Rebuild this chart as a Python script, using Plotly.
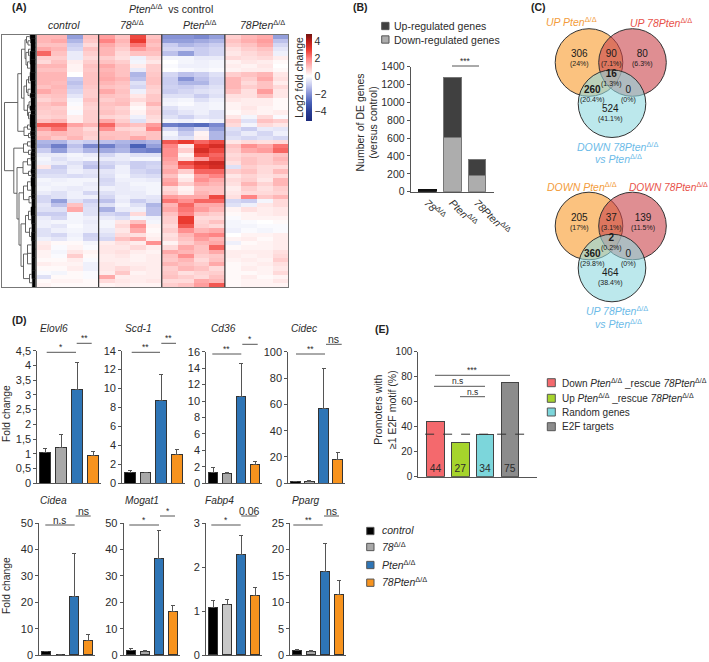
import plotly.graph_objects as go

W, H = 709, 662
FONT = "Liberation Sans"
TXT = "#2b2b2b"
AX = "#555555"
def SUP(s): return f'<sup style="font-size:{s}px">Δ/Δ</sup>'

# ---------- Panel A data (log2 fold change x10, rows top to bottom) ----------
heat_groups = ["control", "78", "Pten", "78Pten"]
heat_rows = [
[12,12,-18,10,16,10,28,10,-20,-20,-22,-18,8,12,14,-18],
[12,14,-14,9,20,12,30,12,-18,-18,-16,-14,10,13,16,-12],
[10,10,-10,6,14,10,22,10,-10,-14,-12,-10,8,10,14,-8],
[14,12,-8,10,12,8,16,12,-8,-8,-10,-8,5,8,10,-5],
[24,10,-4,8,12,6,10,10,-12,-18,-10,-8,4,6,8,-3],
[8,8,-4,6,8,5,-3,6,-2,-2,-4,-4,6,5,6,3],
[6,10,3,8,10,8,-2,4,0,-2,-3,-2,2,4,3,1],
[12,12,2,10,14,10,3,8,-1,-3,-3,-2,3,2,4,0],
[10,10,2,9,12,10,-4,8,0,-1,-2,-1,2,3,3,1],
[12,12,0,10,13,10,-14,9,-8,-12,-10,-6,8,10,12,4],
[12,12,-10,10,14,12,-12,10,-10,-20,-12,-8,12,8,14,5],
[12,11,-12,10,12,10,-6,10,-10,-14,-14,-8,12,6,10,3],
[10,12,-10,9,10,9,-8,8,-9,-10,-8,-6,12,8,10,6],
[14,11,-8,8,14,10,-3,7,-10,-8,-6,-5,10,5,16,4],
[9,10,-5,8,10,9,4,9,-6,-6,-10,-6,5,5,10,4],
[7,9,-2,10,8,10,6,9,-3,-2,-6,-3,4,3,3,1],
[10,12,-1,8,10,11,3,12,-2,-1,-3,-2,2,3,3,1],
[9,8,1,7,9,7,1,7,-6,-3,-3,-2,2,4,2,1],
[8,9,-1,8,10,8,2,8,-8,-5,-3,-6,1,3,2,3],
[7,8,3,8,7,6,-3,6,-6,-9,-5,-6,4,-2,6,-1],
[10,12,3,8,14,8,-6,5,-2,-3,-1,-3,8,-6,10,8],
[26,26,15,12,24,12,10,16,-24,-26,-28,-22,6,-2,6,4],
[16,22,10,6,18,7,6,20,-8,-14,-8,-18,-6,-10,-4,-5],
[10,12,10,8,10,10,8,10,-2,-10,2,-14,-8,-4,-8,-3],
[12,9,12,7,11,10,14,10,-4,-6,3,-14,-6,-8,-6,-8],
[-14,-14,-8,-10,-12,-14,-16,-14,26,30,24,28,4,6,5,6],
[-16,-24,-12,-22,-24,-16,-30,-18,20,4,30,34,10,18,14,22],
[-10,-18,-9,-14,-16,-14,-22,-24,18,8,34,28,8,14,16,24],
[-4,-4,-2,-4,-8,-4,-6,-6,18,2,28,24,6,8,8,10],
[-2,-6,-3,-2,-4,-4,-2,-2,16,5,16,26,7,10,8,12],
[-3,-4,-6,-10,-8,-6,-10,-9,14,28,34,36,5,10,8,10],
[4,-10,-4,-12,-10,-3,-10,-8,12,24,30,34,-6,8,6,6],
[-8,-8,-3,-5,-5,-3,-8,-10,14,8,24,24,8,10,6,11],
[-6,-6,-7,-6,-6,-2,-6,-7,10,2,16,20,4,7,5,6],
[-2,-3,-2,-2,-8,-3,-3,-4,14,4,18,14,6,8,4,12],
[-3,-2,-2,-4,-7,-4,-2,-2,16,8,14,12,5,12,7,12],
[-2,-3,-4,-3,-3,-4,-3,-2,6,2,10,10,3,8,5,8],
[-4,-6,-3,-8,-6,-4,-4,-2,8,3,12,10,4,6,6,7],
[-8,-6,-3,-3,-8,-3,-4,-5,16,14,14,28,5,20,9,12],
[-8,-18,-6,-10,-12,-4,-10,-6,22,18,24,24,-8,-10,-2,6],
[-5,-12,10,-7,-6,-2,-6,-14,12,24,14,14,-6,-3,4,6],
[-6,-6,14,-6,-15,-4,-3,-12,14,22,16,12,2,5,3,4],
[-10,-10,-2,-6,-8,-10,6,-12,10,20,10,8,1,2,3,4],
[-4,-8,-2,-3,-4,-6,-2,-3,8,30,6,6,-1,2,2,2],
[-3,-2,-2,-4,-2,4,10,-2,8,30,7,10,-2,-1,0,1],
[-3,-5,-1,-3,-2,6,18,2,6,26,8,6,-2,-2,-1,-1],
[-6,-3,-2,-3,-4,4,14,1,8,18,12,14,-3,-1,-2,-1],
[-6,-8,-3,-9,-6,6,5,2,5,12,18,20,0,2,2,3],
[-3,-5,-2,-8,-8,10,14,3,6,10,16,12,2,3,1,3],
[3,1,1,-2,3,5,3,18,2,8,12,14,-3,1,2,3],
[4,-1,2,-1,4,4,6,3,6,14,10,24,1,2,2,3],
[2,-2,4,2,4,5,3,2,14,12,10,14,3,3,3,5],
[2,-1,8,1,3,4,2,3,10,18,8,9,3,2,3,6],
[1,1,3,-1,3,3,2,3,9,12,6,10,2,3,2,8],
[3,2,2,-3,4,3,3,3,12,10,8,14,1,2,3,5],
[1,1,3,-3,4,6,4,3,8,12,10,6,1,3,2,4],
[-1,-2,1,-1,3,9,2,3,9,5,7,8,1,1,2,6],
[-6,1,1,-1,14,3,3,3,10,8,6,10,1,3,1,2],
[1,2,2,1,6,4,3,4,6,6,14,12,1,2,2,4],
[2,1,1,1,2,3,2,2,8,10,16,26,1,2,2,2],
]
colorbar_ticks = [4, 2, 0, -2, -4]

# dendrogram: (distance, child, child); leaf cluster: (distance, number of rows)
dendro_tree = (31,
    (17.7,
        (14,
            (10.5,
                (9, (6, 1), (7.5, (5.5, 1), (5, 1))),
                (9.5, (7, (5, 1), (6, 2)), (8, (6, 1), (5.5, 2)))),
            (11.5,
                (9, (7, (6, 2), (5, 1)), (7.5, (5, 2), (6, 1))),
                (8, (6.5, (5, 2), (6, 1)), (7, (5, 1), (6, 2))))),
        (11.5, (8, (6, 1), (5, 1)), (7, (5.5, 1), (5, 1)))),
    (21.7,
        (12, (8, (5, 1), (5, 1)), (7, (4.5, 1), (5, 1))),
        (18.5,
            (12.5, (8, (5, 1), (4.5, 2)), (7, (5, 1), (4.5, 1))),
            (16.5,
                (12, (8, (5, 2), (4.5, 2)), (6.5, (4.5, 1), (4, 2))),
                (14.5,
                    (10, (7, (5, 2), (4.5, 2)), (6, (4, 2), (4.5, 2))),
                    (12, (8, (4, 2), (4, 2), (4, 3)), (6, (4, 2), (3.5, 2))))))))

# ---------- Panel B data ----------
b_categories = [f"<i>78</i>{SUP(5)}", f"<i>Pten</i>{SUP(5)}", f"<i>78Pten</i>{SUP(5)}"]
b_down = [8, 605, 180]
b_up = [12, 670, 185]

# ---------- Panel C data ----------
venn_top_counts = [306, 90, 80, 16, 260, 0, 524]
venn_top_pct = ["24%", "7.1%", "6.3%", "1.3%", "20.4%", "0%", "41.1%"]
venn_bottom_counts = [205, 37, 139, 2, 360, 0, 464]
venn_bottom_pct = ["17%", "3.1%", "11.5%", "0.2%", "29.8%", "0%", "38.4%"]

# ---------- Panel D data ----------
d_genes = ["Elovl6", "Scd-1", "Cd36", "Cidec", "Cidea", "Mogat1", "Fabp4", "Pparg"]
d_groups = ["control", "78", "Pten", "78Pten"]
d_values = [
    [1.05, 1.2, 3.17, 0.93],
    [1.15, 1.1, 8.7, 3.05],
    [1.35, 1.25, 10.6, 2.3],
    [1.2, 1.5, 56.5, 18],
    [1.2, 0, 22.3, 5.6],
    [1.7, 1.2, 36.7, 16.5],
    [1.08, 1.15, 2.3, 1.36],
    [0.9, 0.6, 15.8, 11.5],
]
d_err_tops = [
    [1.17, 1.65, 4.1, 1.07],
    [1.35, 1.15, 11.45, 3.55],
    [1.9, 1.35, 14.6, 2.65],
    [1.7, 1.9, 87.5, 23.5],
    [1.2, 0, 38.7, 7.7],
    [2.3, 1.6, 47.2, 18.7],
    [1.25, 1.27, 2.72, 1.53],
    [1.05, 0.85, 21.2, 14.1],
]
d_ymax = [4.5, 14, 16, 100, 50, 50, 3, 25]
d_ticks = [
    [0, .5, 1, 1.5, 2, 2.5, 3, 3.5, 4, 4.5],
    list(range(0, 15, 2)), list(range(0, 17, 2)), list(range(0, 101, 20)),
    list(range(0, 51, 10)), list(range(0, 51, 10)), [0, 1, 2, 3], list(range(0, 26, 5)),
]
d_ticktext = [["0", "0,5", "1", "1,5", "2", "2,5", "3", "3,5", "4", "4,5"]] + [None] * 7
d_sig_left = ["*", "**", "**", "**", "n.s", "*", "*", "**"]
d_sig_right = ["**", "**", "*", "ns", "ns", "*", "0.06", "ns"]

# ---------- Panel E data ----------
e_categories = ["Down", "Up", "Random genes", "E2F targets"]
e_values = [44, 27, 34, 75]
e_reference = 34

# ---------- layout positions ----------
d_left = [37.3, 122.2, 206.3, 288.3, 39.3, 123.7, 206, 290.3]
d_step = [16, 15.6, 14, 14.1, 14, 14, 14, 14]
d_top = [350.7, 350.7, 351.7, 351.7, 523.3, 523.3, 523.3, 523.3]
d_bot = [483.3, 483.3, 483.3, 483.3, 655, 655, 655, 655]
d_title_x = [38, 123, 209, 288.7, 38, 122.7, 203, 290]
d_title_y = [328, 328, 328, 328, 500, 500, 500, 500]
d_left_line = [(46.7, 76, 352.3), (131.7, 160, 352.3), (212.3, 241.3, 354), (296, 325, 354),
               (45.3, 74.7, 525), (129.3, 159, 525), (211.3, 240.7, 525), (293.3, 322.7, 525)]
d_right_line = [(76.7, 91.7, 343.3), (161.3, 176, 343.3), (242.3, 257.7, 344.3), (326, 341.7, 344.3),
                (75.7, 90.7, 516), (160, 175, 516), (241.3, 256.7, 516), (324, 339, 516)]
c_blue, c_orange = "#2E75B6", "#F7931E"


def px(x): return x / W
def py(y): return 1 - y / H
def domx(a, b): return [a / W, b / W]
def domy(top, bot): return [1 - bot / H, 1 - top / H]

anns, shapes = [], []


def text(x, y, s, size=10.5, color=TXT, anchor="center", angle=0):
    anns.append(dict(xref="paper", yref="paper", x=px(x), y=py(y), text=s, showarrow=False,
                     xanchor=anchor, yanchor="middle", textangle=angle, align="center",
                     font=dict(family=FONT, size=size, color=color)))


def seg(x0, x1, y0, y1=None, color=AX, width=1, dash=None):
    shapes.append(dict(type="line", xref="paper", yref="paper", x0=px(x0), x1=px(x1), y0=py(y0),
                       y1=py(y0 if y1 is None else y1), line=dict(color=color, width=width, dash=dash)))


def swatch(x0, x1, yc, color):
    h = (x1 - x0) / 2
    shapes.append(dict(type="rect", xref="paper", yref="paper", x0=px(x0), x1=px(x1), y0=py(yc - h),
                       y1=py(yc + h), fillcolor=color, line=dict(color="#555555", width=1)))


fig = go.Figure()
lay = {}

# ---------- A: heatmap ----------
ZMIN, ZMAX = -5.1, 4.76
def nrm(v): return (v - ZMIN) / (ZMAX - ZMIN)
scale = [[nrm(-5.1), "#1c2a7c"], [nrm(-4), "#2a3f96"], [nrm(-3), "#4a62b8"], [nrm(-2), "#8793d6"],
         [nrm(-1), "#cacdf0"], [nrm(0), "#ffffff"], [nrm(1), "#ffc2c2"], [nrm(2), "#ff8484"],
         [nrm(3), "#ea3a30"], [nrm(4), "#b81c18"], [nrm(4.76), "#701410"]]
z = [[v / 10 for v in r] for r in heat_rows]
fig.add_trace(go.Heatmap(z=z, x=list(range(16)), y=list(range(len(z))), colorscale=scale, zmin=ZMIN, zmax=ZMAX,
    xaxis="x", yaxis="y", hoverinfo="skip",
    colorbar=dict(x=px(305.7), xanchor="left", y=py(34.3), yanchor="top", lenmode="pixels", len=87.4,
                  thicknessmode="pixels", thickness=6, outlinewidth=0, ticks="", tickvals=colorbar_ticks,
                  ticklabelposition="outside", xpad=0, ypad=0, tickfont=dict(family=FONT, size=10.5, color=TXT))))
frame = dict(showline=True, linecolor="#777777", linewidth=1, mirror=True, showgrid=False, zeroline=False,
             showticklabels=False, ticks="")
lay["xaxis"] = dict(domain=domx(35.5, 288), range=[-.5, 15.5], **frame)
lay["yaxis"] = dict(domain=domy(34.5, 287), range=[len(z) - .5, -.5], anchor="x", **frame)
for g in (3.5, 7.5, 11.5):
    shapes.append(dict(type="line", xref="x", yref="y domain", x0=g, x1=g, y0=0, y1=1,
                       line=dict(color="#333333", width=1.2)))

# dendrogram drawn from the tree
lx, ly, blobs = [], [], []
cursor = [-.5]
def layout_node(n):
    if isinstance(n[1], int):
        a = cursor[0]; cursor[0] += n[1]; b = cursor[0]
        blobs.append((n[0], a, b))
        return n[0], (a + b) / 2
    h = n[0]
    ys = []
    for c in n[1:]:
        ch, cy = layout_node(c)
        lx.extend([ch, h, None]); ly.extend([cy, cy, None])
        ys.append(cy)
    lx.extend([h, h, None]); ly.extend([min(ys), max(ys), None])
    return h, sum(ys) / len(ys)
layout_node(dendro_tree)
fig.add_trace(go.Scatter(x=lx, y=ly, mode="lines", line=dict(color="#555555", width=0.9), xaxis="x2", yaxis="y2",
                         hoverinfo="skip"))
for h, a, b in blobs:
    fig.add_trace(go.Scatter(x=[0, h * .9, h * .9, 0], y=[a, a, b, b], mode="lines", fill="toself", fillcolor="#000000",
                             line=dict(color="#000000", width=0.5), xaxis="x2", yaxis="y2", hoverinfo="skip"))
lay["xaxis2"] = dict(domain=domx(2, 35.5), range=[33.5, 0], anchor="y2", **frame)
lay["yaxis2"] = dict(domain=domy(34.5, 287), range=[len(z) - .5, -.5], anchor="x2", **frame)

text(171, 8.7, f"<i>Pten</i>{SUP(5)}  vs control", 10.5)
text(64, 25, "<i>control</i>", 10.5)
text(132, 24, f"<i>78</i>{SUP(10)}", 10.5)
text(200, 24, f"<i>Pten</i>{SUP(10)}", 10.5)
text(262, 24, f"<i>78Pten</i>{SUP(10)}", 10.5)
text(299, 77.7, "Log2 fold change", 10.5, angle=-90)

# ---------- B ----------
fig.add_trace(go.Bar(x=b_categories, y=b_down, name="Down-regulated genes",
                     marker=dict(color=["#111111", "#ADADAD", "#ADADAD"], line=dict(color=["#111111", "#777777", "#777777"], width=1)),
                     width=.72, xaxis="x3", yaxis="y3", showlegend=False))
fig.add_trace(go.Bar(x=b_categories, y=b_up, name="Up-regulated genes",
                     marker=dict(color=["#111111", "#404040", "#404040"], line=dict(color=["#111111", "#777777", "#777777"], width=1)),
                     width=.72, xaxis="x3", yaxis="y3", showlegend=False))
axis_common = dict(showgrid=False, zeroline=False, showline=True, linecolor=AX, linewidth=1)
lay["xaxis3"] = dict(domain=domx(410.7, 494), range=[-.668, 2.684], anchor="y3", ticks="", tickangle=45,
                     tickfont=dict(family=FONT, size=10.5, color=TXT), **axis_common)
lay["yaxis3"] = dict(domain=domy(66.7, 191.7), range=[0, 1400], anchor="x3", ticks="outside", ticklen=3, tickcolor=AX,
                     dtick=200, tickfont=dict(family=FONT, size=10.5, color=TXT), **axis_common)
text(366.5, 123, "Number of DE genes<br>(versus control)", 10.5, angle=-90)
seg(452, 479, 66)
text(465.5, 60.5, "***", 8.5)
swatch(381.7, 389, 26, "#404040")
swatch(381.7, 389, 39.5, "#ADADAD")
text(391.6, 26, "Up-regulated genes", 10.5, anchor="left")
text(391.6, 39.5, "Down-regulated genes", 10.5, anchor="left")

# ---------- D ----------
for i, gene in enumerate(d_genes):
    n = 4 + i
    gray = "#C8C8C8" if gene == "Fabp4" else "#A8A8A8"
    vals, tops = d_values[i], d_err_tops[i]
    fig.add_trace(go.Bar(x=d_groups, y=vals, width=.67, name=gene, showlegend=False, xaxis=f"x{n}", yaxis=f"y{n}",
        marker=dict(color=["#000000", gray, c_blue, c_orange], line=dict(color="#333333", width=1)),
        error_y=dict(type="data", symmetric=False, array=[t - v for t, v in zip(tops, vals)],
                     arrayminus=[0, 0, 0, 0], color="#555555", thickness=1, width=2)))
    lay[f"xaxis{n}"] = dict(domain=domx(d_left[i], d_left[i] + 4 * d_step[i]), range=[-.5, 3.5], anchor=f"y{n}",
                            tickmode="array", tickvals=[], ticks="", **axis_common)
    ya = dict(domain=domy(d_top[i], d_bot[i]), range=[0, d_ymax[i]], anchor=f"x{n}", ticks="outside", ticklen=3,
              tickcolor=AX, tickvals=d_ticks[i], tickfont=dict(family=FONT, size=11, color=TXT), **axis_common)
    if d_ticktext[i]:
        ya["ticktext"] = d_ticktext[i]
    lay[f"yaxis{n}"] = ya
    text(d_title_x[i], d_title_y[i], f"<i>{gene}</i>", 10.2, anchor="left")
    a, b, y = d_left_line[i]
    seg(a, b, y)
    s = d_sig_left[i]
    text((a + b) / 2, y - (5 if "*" in s else 4.5), s, 8.5 if "*" in s else 10)
    a, b, y = d_right_line[i]
    seg(a, b, y)
    s = d_sig_right[i]
    text((a + b) / 2, y - (5 if "*" in s else 5), s, 8.5 if "*" in s else 10.5)
text(6, 414, "Fold change", 10.3, angle=-90)
text(6, 586, "Fold change", 10.3, angle=-90)
d_legend_y = [531, 547, 565, 582.7]
d_legend_c = ["#000000", "#A8A8A8", c_blue, c_orange]
d_legend_t = ["<i>control</i>", f"<i>78</i>{SUP(10)}", f"<i>Pten</i>{SUP(10)}", f"<i>78Pten</i>{SUP(10)}"]
for yy, c, t in zip(d_legend_y, d_legend_c, d_legend_t):
    swatch(366.7, 374, yy, c)
    text(380, yy - 1, t, 10.5, anchor="left")

# ---------- E ----------
fig.add_trace(go.Bar(x=e_categories, y=e_values, width=.71, text=e_values, textposition="inside",
    insidetextanchor="start", textangle=0, textfont=dict(family=FONT, size=10.5, color=TXT), showlegend=False,
    marker=dict(color=["#F4696D", "#A6D42C", "#7CD6DB", "#8C8C8C"], line=dict(color="#444444", width=1)),
    xaxis="x12", yaxis="y12"))
lay["xaxis12"] = dict(domain=domx(418.3, 537.3), range=[-.695, 4.11], anchor="y12", ticks="", tickmode="array", tickvals=[], **axis_common)
lay["yaxis12"] = dict(domain=domy(351.7, 476.7), range=[0, 100], anchor="x12", ticks="outside", ticklen=3, tickcolor=AX,
                      dtick=20, tickfont=dict(family=FONT, size=10, color=TXT), **axis_common)
shapes.append(dict(type="line", xref="x12", yref="y12", x0=-.42, x1=3.78, y0=e_reference, y1=e_reference,
                   line=dict(color="#333333", width=1, dash="dash")))
text(385, 410, "Promoters with<br>≥1 E2F motif (%)", 10.5, angle=-90)
seg(435, 510, 375.3); text(472, 370, "***", 8.5)
seg(434, 485, 386.3); text(457.7, 381.5, "n.s", 8.5)
seg(460, 485, 396.7); text(472.7, 392, "n.s", 8.5)
e_legend = [(382.7, "#F4696D", f"Down <i>Pten</i>{SUP(5)} _rescue <i>78Pten</i>{SUP(5)}"),
            (398.3, "#A6D42C", f"Up <i>Pten</i>{SUP(5)} _rescue <i>78Pten</i>{SUP(5)}"),
            (412, "#7CD6DB", e_categories[2]), (426.7, "#8C8C8C", e_categories[3])]
for yy, c, t in e_legend:
    swatch(547.3, 555.3, yy, c)
    text(560, yy, t, 10, anchor="left")

# ---------- C: Venn ----------
lay["xaxis13"] = dict(domain=[0, 1], range=[0, W], visible=False, anchor="y13", fixedrange=True)
lay["yaxis13"] = dict(domain=[0, 1], range=[H, 0], visible=False, anchor="x13", fixedrange=True)
venn_fill = ["rgba(249,154,42,.6)", "rgba(201,67,74,.6)", "rgba(143,217,223,.6)"]
for cy1, cy3 in ((62.5, 103.7), (226, 268)):
    for (cx, cy), f in zip(((589, cy1), (632.5, cy1), (612, cy3)), venn_fill):
        shapes.append(dict(type="circle", xref="x13", yref="y13", x0=cx - 33.8, x1=cx + 33.8, y0=cy - 33.8, y1=cy + 33.8,
                           fillcolor=f, line=dict(color="#333333", width=1)))
fig.add_trace(go.Scatter(x=[None], y=[None], xaxis="x13", yaxis="y13", showlegend=False, hoverinfo="skip"))
vx = [579, 611, 642.7, 611, 592, 628.3, 610.7]
for dy, counts, pct in ((0, venn_top_counts, venn_top_pct), (164.3, venn_bottom_counts, venn_bottom_pct)):
    vy = [57.5, 57.5, 57.5, 78, 93.5, 93.5, 113]
    for i in range(7):
        s = str(counts[i])
        s = f"<b>{s}</b>" if i in (3, 4) else s
        text(vx[i], vy[i] + dy, f'<span style="font-size:10px">{s}</span><br>({pct[i]})', 7, color="#1a1a1a")
orange_t, red_t, blue_t = "#F39C3B", "#E8524A", "#6CBBE8"
text(571.7, 21.7, f"<i>UP Pten</i>{SUP(5)}", 10.5, orange_t)
text(660.7, 22.7, f"<i>UP 78Pten</i>{SUP(5)}", 10.5, red_t)
text(617, 146, f"<i>DOWN 78Pten</i>{SUP(5)}", 10.5, blue_t)
text(618, 158.7, f"<i>vs Pten</i>{SUP(5)}", 10.5, blue_t)
text(581.7, 186, f"<i>DOWN Pten</i>{SUP(5)}", 10.5, orange_t)
text(668, 186.7, f"<i>DOWN 78Pten</i>{SUP(5)}", 10.2, red_t)
text(616.7, 310.7, f"<i>UP 78Pten</i>{SUP(5)}", 10.5, blue_t)
text(618, 323, f"<i>vs Pten</i>{SUP(5)}", 10.5, blue_t)

# panel letters
for x, y, s in ((10, 7.5, "(A)"), (351.3, 7.5, "(B)"), (529, 7.5, "(C)"), (10, 320, "(D)"), (373, 329, "(E)")):
    text(x, y, f"<b>{s}</b>", 10.5, color="#222222", anchor="left")

fig.update_layout(width=W, height=H, autosize=False, margin=dict(l=0, r=0, t=0, b=0, pad=0, autoexpand=False),
                  paper_bgcolor="white", plot_bgcolor="rgba(0,0,0,0)", barmode="stack", showlegend=False,
                  annotations=anns, shapes=shapes, font=dict(family=FONT, color=TXT), **lay)
fig.write_html("out.html", config={"displayModeBar": False}, post_script="document.body.style.margin='0';")
